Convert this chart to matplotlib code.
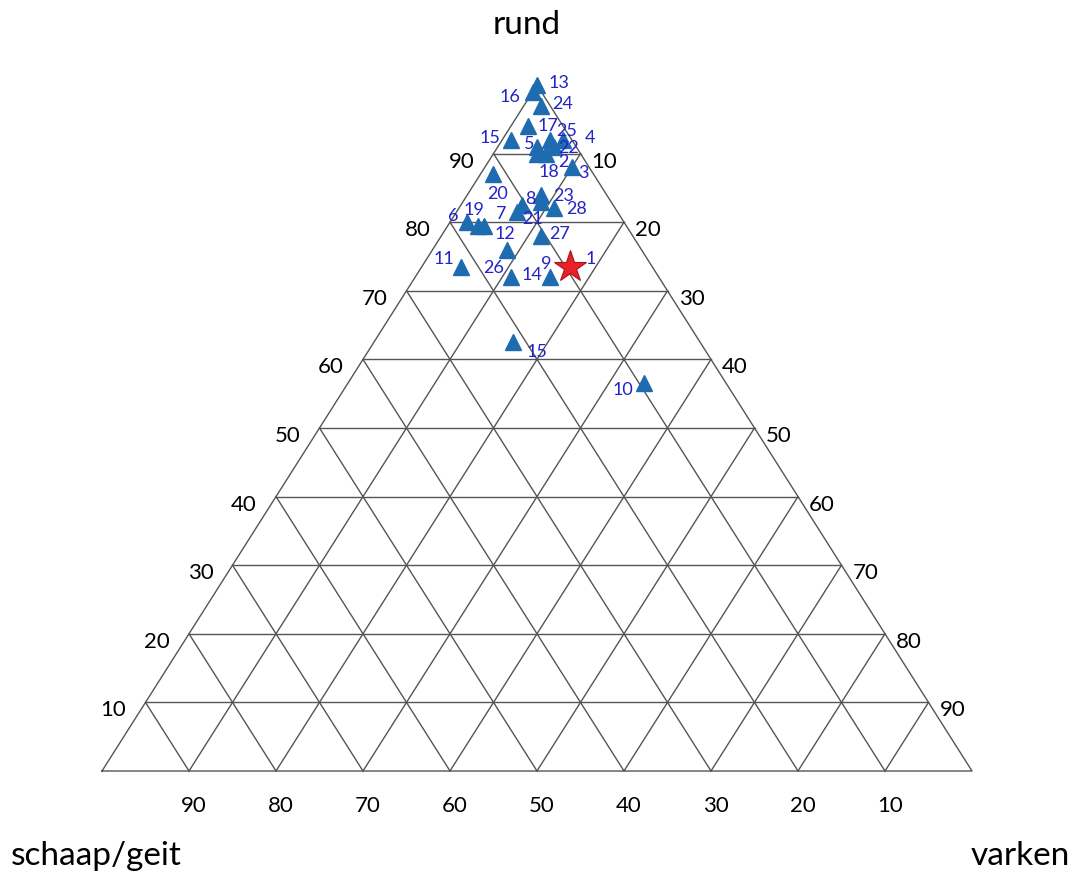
import matplotlib
matplotlib.use("Agg")
import matplotlib.pyplot as plt
import numpy as np

plt.rcParams['font.family'] = ['Lato', 'DejaVu Sans']

# ---- data (percentages) ----
labels = ['13', '16', '24', '17', '15', '25', '5', '22', '4', '2', '18', '3',
          '20', '8', '23', '28', '7', '21', '6', '19', '12', '27', '26', '11',
          '14', '9', '15', '10']
rund = [100, 99, 97, 94, 92, 92, 91, 91, 92, 90, 90, 88,
        87, 84, 83, 82, 81.5, 82.5, 80, 79.5, 79.5, 78, 76, 73.5,
        72, 72, 62.5, 56.5]
varken = [0, 0, 2, 2, 1, 5.5, 4.5, 6.5, 7, 6, 5, 10,
          1.5, 8.5, 9, 11, 7, 7, 2, 3.5, 4.2, 11.5, 8.5, 4.5,
          11, 15.5, 16, 34]
schaap = [100 - r - v for r, v in zip(rund, varken)]

star_label = '1'
star_rund = 73.5
star_varken = 17

ticks = [10, 20, 30, 40, 50, 60, 70, 80, 90]
axis_names = ['rund', 'schaap/geit', 'varken']

# label offsets (pixels, dx right, dy down)
label_offsets = [(22, -3), (-23, 4), (21, -3), (20, -1), (-21, -3), (17, -10),
                 (-8, -4), (14, 0), (27, -3), (18, 7), (12, 17), (12, 5),
                 (4, 19), (-11, 3), (22, -7), (22, 0), (-16, 1), (11, 13),
                 (-14, -7), (-4, -17), (21, 7), (18, -3), (-13, 17), (-17, -9),
                 (21, -3), (-4, -14), (24, 9), (-21, 6)]
star_offset = (21, -9)


def tern(r, v):
    r = np.asarray(r, dtype=float)
    v = np.asarray(v, dtype=float)
    return v + r / 2.0, r


W, H = 1074, 879
fig = plt.figure(figsize=(W / 100, H / 100), dpi=100)
x0, x1, ybot, ytop = 102, 972, 772, 86
ax = fig.add_axes([x0 / W, (H - ybot) / H, (x1 - x0) / W, (ybot - ytop) / H])
ax.set_xlim(0, 100)
ax.set_ylim(0, 100)
ax.axis('off')

gc = '#555555'
lw = 1.0
# outer triangle
bx, by = tern([0, 0, 100, 0], [0, 100, 0, 0])
ax.plot(bx, by, color=gc, lw=lw, clip_on=False)
for k in ticks:
    # rund = k
    xs, ys = tern([k, k], [0, 100 - k])
    ax.plot(xs, ys, color=gc, lw=lw, clip_on=False)
    # varken = k
    xs, ys = tern([0, 100 - k], [k, k])
    ax.plot(xs, ys, color=gc, lw=lw, clip_on=False)
    # schaap = k
    xs, ys = tern([0, 100 - k], [100 - k, 0])
    ax.plot(xs, ys, color=gc, lw=lw, clip_on=False)

tfs = 16
for k in ticks:
    # left edge (rund)
    x, y = tern(k, 0)
    ax.annotate(str(k), (x, y), xytext=(-32, -7), textcoords='offset pixels',
                ha='center', va='center', fontsize=tfs, color='black')
    # right edge (varken)
    x, y = tern(100 - k, k)
    ax.annotate(str(k), (x, y), xytext=(24, -7), textcoords='offset pixels',
                ha='center', va='center', fontsize=tfs, color='black')
    # bottom (schaap)
    x, y = tern(0, 100 - k)
    ax.annotate(str(k), (x, y), xytext=(5, -34), textcoords='offset pixels',
                ha='center', va='center', fontsize=tfs, color='black')

# axis names
fig.text(527 / W, 1 - 25 / H, axis_names[0], ha='center', va='center', fontsize=24)
fig.text(96 / W, 1 - 856 / H, axis_names[1], ha='center', va='center', fontsize=24)
fig.text(1020 / W, 1 - 856 / H, axis_names[2], ha='center', va='center', fontsize=24)

# points
px, py = tern(rund, varken)
ax.plot(px, py, linestyle='none', marker='^', markersize=11,
        color='#1F6BB0', markeredgecolor='#1F6BB0', clip_on=False, zorder=3)
sx, sy = tern(star_rund, star_varken)
ax.plot([sx], [sy], linestyle='none', marker='*', markersize=24,
        color='#E8202A', markeredgecolor='#B01018', markeredgewidth=0.8,
        clip_on=False, zorder=4)

lc = '#2323C8'
lfs = 13
for lab, x, y, (dx, dy) in zip(labels, px, py, label_offsets):
    ax.annotate(lab, (x, y), xytext=(dx, -dy), textcoords='offset pixels',
                ha='center', va='center', fontsize=lfs, color=lc, zorder=5)
ax.annotate(star_label, (sx, sy), xytext=(star_offset[0], -star_offset[1]),
            textcoords='offset pixels', ha='center', va='center',
            fontsize=lfs, color=lc, zorder=5)

fig.savefig('out.png', dpi=100, facecolor='white')
